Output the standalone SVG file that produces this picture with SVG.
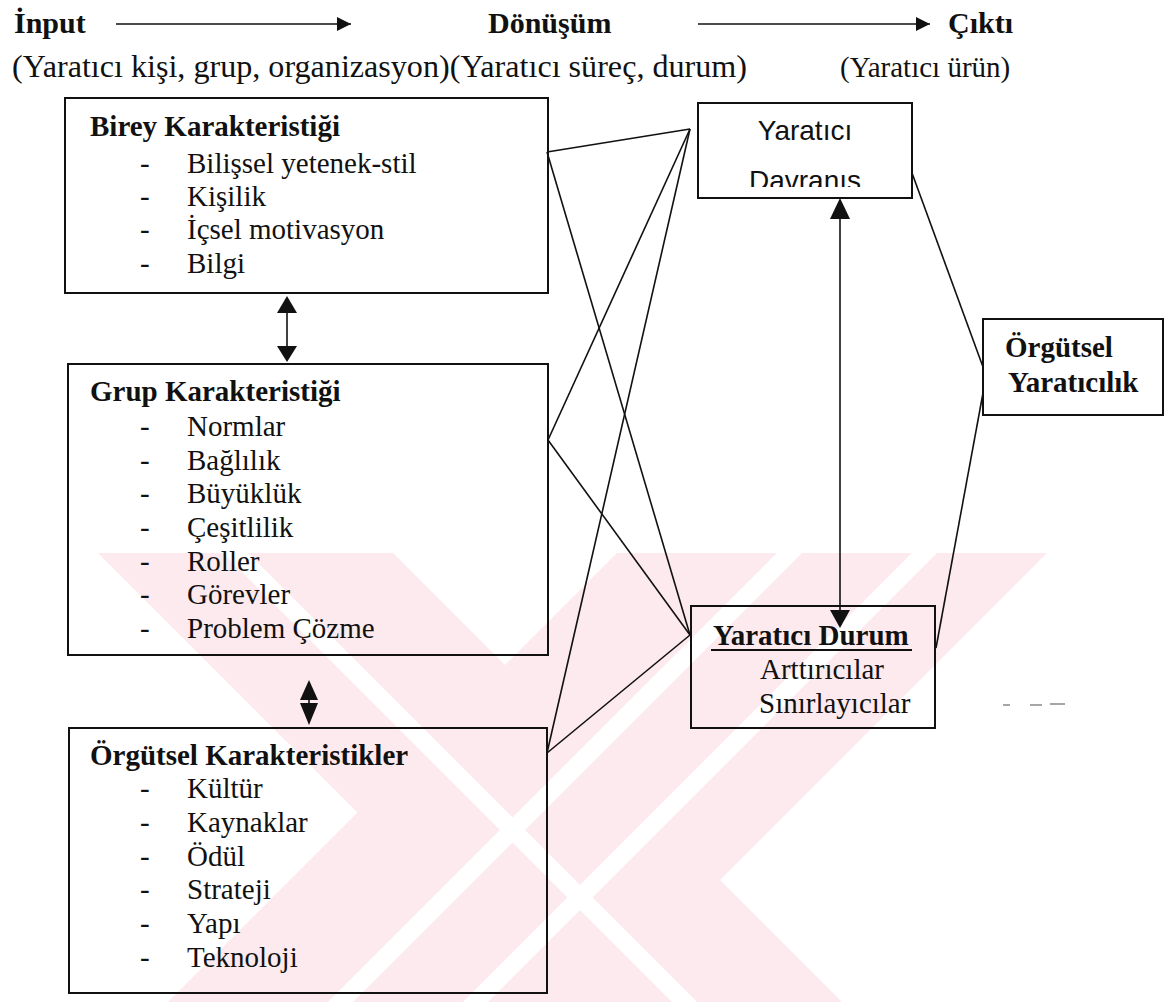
<svg xmlns="http://www.w3.org/2000/svg" width="1165" height="1002" viewBox="0 0 1165 1002">
<style>
.t{font-family:"Liberation Serif","Times New Roman",serif;font-size:29px;fill:#111}
.h{font-size:30px}
.b{font-weight:bold}
.s{font-family:"Liberation Sans",Arial,sans-serif;font-size:28px;fill:#111}
.box{fill:none;stroke:#111;stroke-width:2}
.ln{stroke:#111;stroke-width:1.6;fill:none}
.wm{fill:#fdeaee}
.wg{fill:#fff}
</style>
<defs>
<marker id="ah" viewBox="0 0 10 10" refX="10" refY="5" markerWidth="17" markerHeight="14" markerUnits="userSpaceOnUse" orient="auto"><path d="M0,0L10,5L0,10z" fill="#111"/></marker>
<clipPath id="clipD"><rect x="698" y="103" width="214" height="84"/></clipPath>
</defs>
<rect width="1165" height="1002" fill="#fff"/>
<g id="watermark">
<polygon class="wm" points="98,553 393,553 842,1002 547,1002"/>
<polygon class="wm" points="617,553 1047,553 598,1002 168,1002"/>
<polygon class="wg" points="223,553 248,553 697,1002 672,1002"/>
<polygon class="wg" points="777,553 802,553 353,1002 328,1002"/>
<polygon class="wg" points="912,553 937,553 488,1002 463,1002"/>
</g>
<g id="header">
<text class="t h b" x="14" y="33">İnput</text>
<line class="ln" x1="116" y1="24" x2="351" y2="24" marker-end="url(#ah)"/>
<text class="t h b" x="488" y="33">Dönüşüm</text>
<line class="ln" x1="698" y1="24" x2="930" y2="24" marker-end="url(#ah)"/>
<text class="t h b" x="948" y="33">Çıktı</text>
<text class="t" x="12" y="77" style="font-size:31px" textLength="735" lengthAdjust="spacingAndGlyphs">(Yaratıcı kişi, grup, organizasyon)(Yaratıcı süreç, durum)</text>
<text class="t" x="840" y="77">(Yaratıcı ürün)</text>
</g>
<g id="connectors">
<line class="ln" x1="547" y1="152" x2="690" y2="129"/>
<line class="ln" x1="547" y1="152" x2="690" y2="635"/>
<line class="ln" x1="548" y1="440" x2="690" y2="129"/>
<line class="ln" x1="548" y1="440" x2="690" y2="635"/>
<line class="ln" x1="547" y1="753" x2="690" y2="129"/>
<line class="ln" x1="547" y1="753" x2="690" y2="635"/>
<line class="ln" x1="912" y1="173" x2="983" y2="367"/>
<line class="ln" x1="983" y1="393" x2="936" y2="648"/>
<line class="ln" x1="840" y1="219" x2="840" y2="610"/>
<polygon points="840,198 830,219 850,219" fill="#111"/>
<polygon points="840,628 830,610 850,610" fill="#111"/>
<line class="ln" x1="287" y1="313" x2="287" y2="346"/>
<polygon points="287,296 277,313 297,313" fill="#111"/>
<polygon points="287,362 277,346 297,346" fill="#111"/>
<polygon points="309,680 300,700 318,700" fill="#111"/>
<polygon points="309,725 300,703 318,703" fill="#111"/>
<line class="ln" x1="309" y1="699" x2="309" y2="704"/>
</g>
<g id="birey">
<rect class="box" x="65" y="98" width="483" height="195"/>
<text class="t b" x="90" y="136">Birey Karakteristiği</text>
<text class="t" x="140" y="173">-</text><text class="t" x="187" y="173">Bilişsel yetenek-stil</text>
<text class="t" x="140" y="206">-</text><text class="t" x="187" y="206">Kişilik</text>
<text class="t" x="140" y="239">-</text><text class="t" x="187" y="239">İçsel motivasyon</text>
<text class="t" x="140" y="273">-</text><text class="t" x="187" y="273">Bilgi</text>
</g>
<g id="grup">
<rect class="box" x="68" y="364" width="480" height="291"/>
<text class="t b" x="90" y="401">Grup Karakteristiği</text>
<text class="t" x="140" y="436">-</text><text class="t" x="187" y="436">Normlar</text>
<text class="t" x="140" y="470">-</text><text class="t" x="187" y="470">Bağlılık</text>
<text class="t" x="140" y="503">-</text><text class="t" x="187" y="503">Büyüklük</text>
<text class="t" x="140" y="537">-</text><text class="t" x="187" y="537">Çeşitlilik</text>
<text class="t" x="140" y="571">-</text><text class="t" x="187" y="571">Roller</text>
<text class="t" x="140" y="604">-</text><text class="t" x="187" y="604">Görevler</text>
<text class="t" x="140" y="638">-</text><text class="t" x="187" y="638">Problem Çözme</text>
</g>
<g id="orgutsel">
<rect class="box" x="69" y="728" width="478" height="265"/>
<text class="t b" x="90" y="765">Örgütsel Karakteristikler</text>
<text class="t" x="140" y="798">-</text><text class="t" x="187" y="798">Kültür</text>
<text class="t" x="140" y="832">-</text><text class="t" x="187" y="832">Kaynaklar</text>
<text class="t" x="140" y="866">-</text><text class="t" x="187" y="866">Ödül</text>
<text class="t" x="140" y="899">-</text><text class="t" x="187" y="899">Strateji</text>
<text class="t" x="140" y="933">-</text><text class="t" x="187" y="933">Yapı</text>
<text class="t" x="140" y="967">-</text><text class="t" x="187" y="967">Teknoloji</text>
</g>
<g id="davranis">
<rect class="box" x="698" y="103" width="214" height="95"/>
<text class="s" x="805" y="140" text-anchor="middle">Yaratıcı</text>
<text class="s" x="805" y="190" text-anchor="middle" clip-path="url(#clipD)">Davranış</text>
</g>
<g id="orgyaraticilik">
<rect class="box" x="983" y="319" width="180" height="96"/>
<text class="t b" x="1005" y="357">Örgütsel</text>
<text class="t b" x="1008" y="392">Yaratıcılık</text>
</g>
<g id="durum">
<rect class="box" x="691" y="606" width="244" height="122"/>
<text class="t b" x="713" y="645">Yaratıcı Durum</text>
<line x1="711" y1="650" x2="912" y2="650" stroke="#111" stroke-width="2"/>
<text class="t" x="760" y="679">Arttırıcılar</text>
<text class="t" x="759" y="713">Sınırlayıcılar</text>
</g>
<g id="marks" stroke="#888" stroke-width="1.5">
<line x1="1003" y1="705" x2="1010" y2="705"/>
<line x1="1030" y1="705" x2="1042" y2="705"/>
<line x1="1050" y1="704" x2="1065" y2="704"/>
</g>
</svg>
